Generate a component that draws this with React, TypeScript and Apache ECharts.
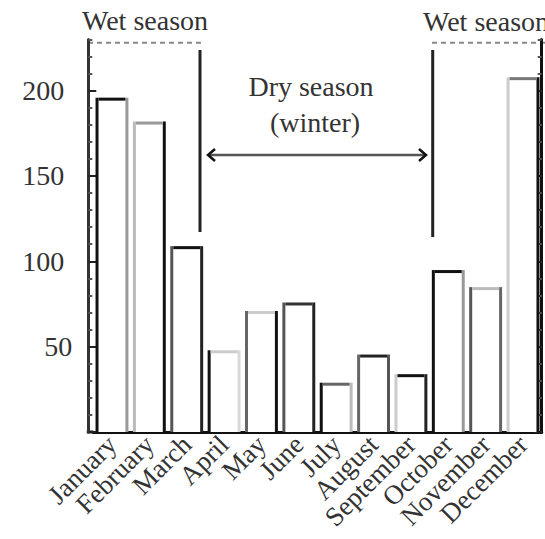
import React, { useEffect, useRef } from "react";
import * as echarts from "echarts";

// ---- data ----
const MONTHS = [
  "January", "February", "March", "April", "May", "June",
  "July", "August", "September", "October", "November", "December",
];
const RAINFALL = [195, 181, 108, 47, 70, 75, 28, 44.5, 33, 94, 84, 207];
const Y_MIN = 0;
const Y_MAX = 230;
const Y_LABELED = [50, 100, 150, 200];
const MAJOR_MAX = 200;

// per-bar edge shades [left, top, right] (style only)
const EDGE_SHADES = [
  ["#111", "#111", "#999"],
  ["#bbb", "#999", "#111"],
  ["#555", "#111", "#222"],
  ["#111", "#ccc", "#d8d8d8"],
  ["#666", "#ccc", "#111"],
  ["#555", "#333", "#222"],
  ["#111", "#666", "#bbb"],
  ["#666", "#222", "#555"],
  ["#ccc", "#111", "#222"],
  ["#111", "#111", "#999"],
  ["#555", "#bbb", "#666"],
  ["#ccc", "#777", "#111"],
];

const FONT = '"Liberation Serif", "DejaVu Serif", serif';
const W = 545;
const H = 539;
const GRID_LEFT = 93.3;
const GRID_RIGHT = 3.3;
const GRID_TOP = 39.4;
const GRID_BOTTOM = 107;
const AXIS_OFFSET = 5;

export default function App() {
  const ref = useRef<HTMLDivElement>(null);

  useEffect(() => {
    if (!ref.current) return;
    const chart = echarts.init(ref.current, undefined, { renderer: "svg" });
    const plotH = H - GRID_TOP - GRID_BOTTOM;
    const majorTop = H - GRID_BOTTOM - (MAJOR_MAX / (Y_MAX - Y_MIN)) * plotH;
    const baseY = H - GRID_BOTTOM;

    const textStyle = (text: string, x: number, y: number) => ({
      type: "text",
      x,
      y,
      silent: true,
      style: {
        text,
        fill: "#333",
        fontSize: 28,
        fontFamily: FONT,
        align: "center",
        verticalAlign: "middle",
      },
    });

    const option: any = {
      animation: false,
      backgroundColor: "#fff",
      grid: [
        { left: GRID_LEFT, right: GRID_RIGHT, top: GRID_TOP, bottom: GRID_BOTTOM },
        { left: GRID_LEFT, right: GRID_RIGHT, top: majorTop, bottom: GRID_BOTTOM },
      ],
      xAxis: [
        {
          gridIndex: 0,
          type: "category",
          data: MONTHS,
          axisLine: { lineStyle: { color: "#111", width: 3 } },
          axisTick: {
            inside: true,
            alignWithLabel: true,
            length: 4,
            lineStyle: { color: "#777", width: 2 },
          },
          axisLabel: {
            interval: 0,
            rotate: 45,
            margin: 8,
            fontSize: 27,
            fontFamily: FONT,
            color: "#333",
          },
          splitLine: { show: false },
        },
        { gridIndex: 1, type: "category", data: MONTHS, show: false },
      ],
      yAxis: [
        {
          gridIndex: 0,
          type: "value",
          position: "left",
          offset: AXIS_OFFSET,
          min: Y_MIN,
          max: Y_MAX,
          interval: 10,
          axisLine: { show: true, lineStyle: { color: "#333", width: 3 } },
          axisTick: { show: true, inside: true, length: 4, lineStyle: { color: "#555", width: 2 } },
          axisLabel: {
            margin: 16,
            fontSize: 28,
            fontFamily: FONT,
            color: "#333",
            formatter: (v: number) => {
              if (Y_LABELED.indexOf(v) < 0) return "";
              return v < 100 ? "{n|" + v + "}" : "{p|" + v + "}";
            },
            rich: {
              n: { fontSize: 28, fontFamily: FONT, color: "#333" },
              p: { fontSize: 28, fontFamily: FONT, color: "#333", padding: [0, 8, 0, 0] },
            },
          },
          splitLine: { show: false },
        },
        {
          gridIndex: 0,
          type: "value",
          position: "right",
          min: Y_MIN,
          max: Y_MAX,
          interval: 10,
          axisLine: { show: true, lineStyle: { color: "#111", width: 3 } },
          axisTick: { show: true, inside: true, length: 4, lineStyle: { color: "#555", width: 2 } },
          axisLabel: { show: false },
          splitLine: { show: false },
        },
        {
          gridIndex: 1,
          type: "value",
          position: "left",
          offset: AXIS_OFFSET,
          min: Y_MIN,
          max: MAJOR_MAX,
          interval: 50,
          axisLine: { show: false },
          axisTick: { show: true, inside: true, length: 8, lineStyle: { color: "#222", width: 2 } },
          axisLabel: { show: false },
          splitLine: { show: false },
        },
        {
          gridIndex: 1,
          type: "value",
          position: "right",
          min: Y_MIN,
          max: MAJOR_MAX,
          interval: 50,
          axisLine: { show: false },
          axisTick: { show: true, inside: true, length: 8, lineStyle: { color: "#222", width: 2 } },
          axisLabel: { show: false },
          splitLine: { show: false },
        },
      ],
      series: [
        {
          type: "custom",
          xAxisIndex: 0,
          yAxisIndex: 0,
          data: RAINFALL.map((v, i) => [i, v]),
          renderItem: (params: any, api: any) => {
            const idx = params.dataIndex;
            const xv = api.value(0);
            const yv = api.value(1);
            const top = api.coord([xv, yv]);
            const base = api.coord([xv, 0]);
            const band = api.size([1, 0])[0];
            const w = band * 0.8;
            const xl = top[0] - w / 2;
            const xr = top[0] + w / 2;
            const sh = EDGE_SHADES[idx];
            const lw = 3;
            return {
              type: "group",
              children: [
                {
                  type: "rect",
                  shape: { x: xl, y: top[1], width: w, height: base[1] - top[1] },
                  style: { fill: "#fff" },
                },
                {
                  type: "line",
                  shape: { x1: xl, y1: base[1], x2: xl, y2: top[1] - lw / 2 },
                  style: { stroke: sh[0], lineWidth: lw },
                },
                {
                  type: "line",
                  shape: { x1: xr, y1: base[1], x2: xr, y2: top[1] - lw / 2 },
                  style: { stroke: sh[2], lineWidth: lw },
                },
                {
                  type: "line",
                  shape: { x1: xl + lw / 2, y1: top[1], x2: xr - lw / 2, y2: top[1] },
                  style: { stroke: sh[1], lineWidth: lw },
                },
              ],
            };
          },
        },
      ],
      graphic: [
        {
          type: "line",
          silent: true,
          shape: { x1: GRID_LEFT - AXIS_OFFSET - 1.5, y1: baseY, x2: GRID_LEFT, y2: baseY },
          style: { stroke: "#111", lineWidth: 3 },
        },
        // dashed wet-season brackets
        {
          type: "line",
          silent: true,
          shape: { x1: 88, y1: 42.7, x2: 203, y2: 42.7 },
          style: { stroke: "#888", lineWidth: 2, lineDash: [5, 4] },
        },
        {
          type: "line",
          silent: true,
          shape: { x1: 432, y1: 42.7, x2: 545, y2: 42.7 },
          style: { stroke: "#888", lineWidth: 2, lineDash: [5, 4] },
        },
        // season boundaries
        {
          type: "line",
          silent: true,
          shape: { x1: 200, y1: 50, x2: 200, y2: 232 },
          style: { stroke: "#222", lineWidth: 3 },
        },
        {
          type: "line",
          silent: true,
          shape: { x1: 432.7, y1: 50, x2: 432.7, y2: 237 },
          style: { stroke: "#222", lineWidth: 3 },
        },
        // double arrow
        {
          type: "line",
          silent: true,
          shape: { x1: 208, y1: 155, x2: 426, y2: 155 },
          style: { stroke: "#555", lineWidth: 2.5 },
        },
        {
          type: "polyline",
          silent: true,
          shape: { points: [[215, 149], [208, 155], [215, 161]] },
          style: { stroke: "#111", lineWidth: 2.5, fill: null },
        },
        {
          type: "polyline",
          silent: true,
          shape: { points: [[419, 149], [426, 155], [419, 161]] },
          style: { stroke: "#111", lineWidth: 2.5, fill: null },
        },
        textStyle("Wet season", 145, 20),
        textStyle("Wet season", 486, 21),
        textStyle("Dry season", 311, 86),
        textStyle("(winter)", 315, 122),
      ],
    };

    chart.setOption(option);
    return () => {
      chart.dispose();
    };
  }, []);

  return (
    <div
      ref={ref}
      style={{ position: "fixed", left: 0, top: 0, width: W, height: H, background: "#fff" }}
    />
  );
}
